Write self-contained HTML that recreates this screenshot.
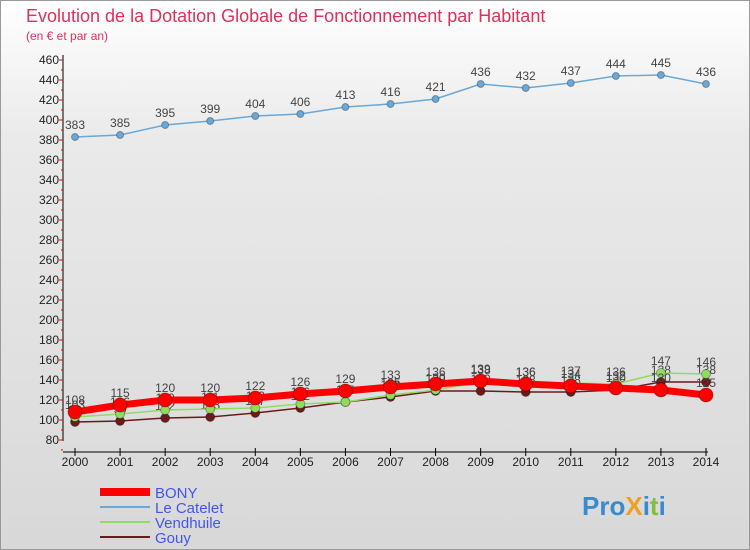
<!DOCTYPE html>
<html><head><meta charset="utf-8"><style>
body{margin:0;width:750px;height:550px;overflow:hidden;font-family:"Liberation Sans",sans-serif}
#bg{position:absolute;left:0;top:0;width:748px;height:548px;border:1px solid #999;background:linear-gradient(#fff 0%,#eaeaea 25%,#d8d8d8 100%)}
</style></head><body>
<div id="bg"></div>
<svg id="c" width="750" height="550" style="position:absolute;left:0;top:0"></svg>
<script>
const years=[2000,2001,2002,2003,2004,2005,2006,2007,2008,2009,2010,2011,2012,2013,2014];
const yTicks=[80,100,120,140,160,180,200,220,240,260,280,300,320,340,360,380,400,420,440,460];
const bony=[108,115,120,120,122,126,129,133,136,139,136,134,132,130,125];
const catelet=[383,385,395,399,404,406,413,416,421,436,432,437,444,445,436];
const vend=[103,106,110,111,112,116,118,125,130,138,136,137,136,147,146];
const gouy=[98,99,102,103,107,112,118,123,129,129,128,128,130,138,138];
const X=i=>75+i*(631/14), Y=v=>440-(v-80);
const s=document.getElementById('c');const NS='http://www.w3.org/2000/svg';
function el(t,a,txt){const e=document.createElementNS(NS,t);for(const k in a)e.setAttribute(k,a[k]);if(txt!=null)e.textContent=txt;s.appendChild(e);return e;}
let e;
e=el('text',{x:26,y:22,fill:'#e0305a','font-size':18},'Evolution de la Dotation Globale de Fonctionnement par Habitant');

e=el('text',{x:26,y:40,fill:'#e0305a','font-size':12},'(en € et par an)');

e=el('line',{x1:63,y1:55,x2:63,y2:441,stroke:'#000'});

yTicks.forEach(v=>{const t=el('text',{x:59,y:Y(v)+4,'text-anchor':'end','font-size':12,fill:'#222'},v);

const l=el('line',{x1:59,y1:Y(v),x2:63,y2:Y(v),stroke:'#e00'});
const m=el('line',{x1:61,y1:Y(v)+10,x2:63,y2:Y(v)+10,stroke:'#e00'});});
e=el('line',{x1:63,y1:452,x2:708,y2:452,stroke:'#000'});

years.forEach((y,i)=>{const l=el('line',{x1:X(i),y1:448,x2:X(i),y2:456,stroke:'#000'});
const t=el('text',{x:X(i),y:466,'text-anchor':'middle','font-size':12,fill:'#222'},y);});
function series(d,col,w,r,name,lab){const p=el('polyline',{points:d.map((v,i)=>X(i)+','+Y(v)).join(' '),fill:'none',stroke:col,'stroke-width':w});

d.forEach((v,i)=>{const c=el('circle',{cx:X(i),cy:Y(v),r:r,fill:col,stroke:'rgba(0,0,0,0.3)'});
if(lab){const t=el('text',{x:X(i),y:Y(v)-8,'text-anchor':'middle','font-size':12,fill:'#444'},v);}});}
series(catelet,'#6aa8d8',1.5,3.5,'le-catelet',true);
series(gouy,'#6b1a1a',1.5,4.5,'gouy',true);
series(vend,'#8fdc60',1.5,4.5,'vendhuile',true);
series(bony,'#ff0000',7,7,'bony',true);
const leg=[['BONY','#ff0000',8],['Le Catelet','#6aa8d8',2],['Vendhuile','#8fdc60',2],['Gouy','#6b1a1a',2]];
leg.forEach((L,i)=>{const y=492+i*15;const l=el('line',{x1:100,y1:y,x2:150,y2:y,stroke:L[1],'stroke-width':L[2]});
const t=el('text',{x:155,y:y+6,'font-size':15,fill:'#4455ee'},L[0]);});
e=el('text',{x:582,y:515,'font-size':26,'font-weight':'bold',fill:'#3a8ad0'});

[['Pro','#3a8ad0'],['X','#f0a020'],['i','#3a8ad0'],['t','#80c040'],['i','#3a8ad0']].forEach(p=>{const ts=document.createElementNS(NS,'tspan');ts.setAttribute('fill',p[1]);ts.textContent=p[0];e.appendChild(ts);});
</script>
</body></html>
